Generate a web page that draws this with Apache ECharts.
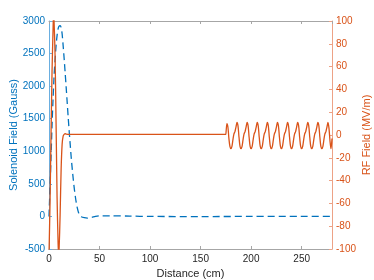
<!DOCTYPE html>
<html>
<head>
<meta charset="utf-8">
<script src="https://cdn.jsdelivr.net/npm/echarts@6/dist/echarts.min.js"></script>
<style>
html,body{margin:0;padding:0;background:#fff;}
#c{width:374px;height:280px;}
</style>
</head>
<body>
<div id="c"></div>
<script>
// Solenoid field (Gauss) vs distance (cm)
var solX = [0, 1, 2, 3, 4, 5, 6, 7, 8, 9, 10, 11, 12, 13, 14, 15, 16, 17, 18, 19, 20, 21, 22, 23, 24, 25, 26, 27, 28, 29, 30, 32, 35, 38, 42, 46, 50, 60, 80, 100, 150, 200, 250, 280];
var solY = [0, 450, 900, 1400, 1800, 2150, 2400, 2620, 2780, 2880, 2920, 2930, 2900, 2800, 2620, 2420, 2200, 1980, 1750, 1520, 1300, 1100, 900, 730, 570, 430, 310, 210, 130, 70, 30, -5, -20, -25, -15, 0, 8, 10, 5, 0, -2, 0, 0, 0];

// RF field (MV/m) vs distance (cm)
var rfX = [0, 1, 2, 3, 4, 4.5, 5, 6, 7, 8, 9, 9.5, 10, 11, 12, 13, 14, 15, 16, 17, 20, 40, 80, 120, 160, 175, 175.6,
  176, 177, 178, 179, 180, 181, 182, 183, 184, 185,
  186, 187, 188, 189, 190, 191, 192, 193, 194, 195,
  196, 197, 198, 199, 200, 201, 202, 203, 204, 205,
  206, 207, 208, 209, 210, 211, 212, 213, 214, 215,
  216, 217, 218, 219, 220, 221, 222, 223, 224, 225,
  226, 227, 228, 229, 230, 231, 232, 233, 234, 235,
  236, 237, 238, 239, 240, 241, 242, 243, 244, 245,
  246, 247, 248, 249, 250, 251, 252, 253, 254, 255,
  256, 257, 258, 259, 260, 261, 262, 263, 264, 265,
  266, 267, 268, 269, 270, 271, 272, 273, 274, 275,
  276, 277, 278, 279, 280];
var rfY = [-105, -60, 0, 55, 92, 105, 100, 70, 10, -55, -95, -105, -100, -70, -30, -8, -1, 0.5, 1.2, 0.8, 0.5, 0.5, 0.5, 0.5, 0.5, 0.5, 0.5,
  10, 7, -3, -10, -12, -10, -4, 1, 3, 7,
  11, 8, -2, -10, -12, -10, -4, 1, 3, 7,
  11, 8, -2, -10, -12, -10, -4, 1, 3, 7,
  11, 8, -2, -10, -12, -10, -4, 1, 3, 7,
  11, 8, -2, -10, -12, -10, -4, 1, 3, 7,
  11, 8, -2, -10, -12, -10, -4, 1, 3, 7,
  11, 8, -2, -10, -12, -10, -4, 1, 3, 7,
  11, 8, -2, -10, -12, -10, -4, 1, 3, 7,
  11, 8, -2, -10, -12, -10, -4, 1, 3, 7,
  11, 8, -2, -10, -12, -10, -4, 1, 3, 7,
  11, 6, -5, -12, -3];

var xTickInterval = 50;
var leftTickInterval = 500;
var rightTickInterval = 20;

function pairs(xs, ys) { var o = []; for (var i = 0; i < xs.length; i++) o.push([xs[i], ys[i]]); return o; }
function plain(v) { return String(v); }

var FONT = 'Liberation Sans, Arial, Helvetica, sans-serif';
var BLUE = '#0072BD', ORANGE = '#D95319', DARK = '#262626', GRAYLINE = '#a6a6a6';

var chart = echarts.init(document.getElementById('c'), null, {renderer: 'canvas'});
chart.setOption({
  animation: false,
  backgroundColor: '#ffffff',
  grid: {left: 49, right: 42, top: 21, bottom: 31, containLabel: false, outerBoundsMode: 'none'},
  xAxis: [{
    type: 'value', position: 'bottom', min: 0, max: 280, interval: xTickInterval,
    name: 'Distance (cm)', nameLocation: 'middle', nameGap: 19, nameMoveOverlap: false,
    nameTextStyle: {color: DARK, fontSize: 11, fontFamily: FONT},
    axisLine: {show: true, onZero: false, lineStyle: {color: GRAYLINE, width: 1}},
    axisTick: {show: true, inside: true, length: 3, lineStyle: {color: GRAYLINE}},
    axisLabel: {color: DARK, fontSize: 10, fontFamily: FONT, margin: 5, showMaxLabel: false, formatter: plain},
    splitLine: {show: false}
  }, {
    type: 'value', position: 'top', min: 0, max: 280, interval: xTickInterval,
    axisLine: {show: true, onZero: false, lineStyle: {color: GRAYLINE, width: 1}},
    axisTick: {show: true, inside: true, length: 3, lineStyle: {color: GRAYLINE}},
    axisLabel: {show: false},
    splitLine: {show: false}
  }],
  yAxis: [{
    type: 'value', position: 'left', min: -500, max: 3000, interval: leftTickInterval,
    name: 'Solenoid Field (Gauss)', nameLocation: 'middle', nameGap: 30, nameRotate: 90, nameMoveOverlap: false,
    nameTextStyle: {color: BLUE, fontSize: 11, fontFamily: FONT},
    axisLine: {show: true, onZero: false, lineStyle: {color: '#6aaee0', width: 1}},
    axisTick: {show: true, inside: true, length: 3, lineStyle: {color: '#6aaee0'}},
    axisLabel: {color: BLUE, fontSize: 10, fontFamily: FONT, margin: 4, formatter: plain},
    splitLine: {show: false}
  }, {
    type: 'value', position: 'right', min: -100, max: 100, interval: rightTickInterval,
    name: 'RF Field (MV/m)', nameLocation: 'middle', nameGap: 29, nameRotate: 90, nameMoveOverlap: false,
    nameTextStyle: {color: ORANGE, fontSize: 11, fontFamily: FONT},
    axisLine: {show: true, onZero: false, lineStyle: {color: '#eda286', width: 1}},
    axisTick: {show: true, inside: true, length: 3, lineStyle: {color: '#eda286'}},
    axisLabel: {color: ORANGE, fontSize: 10, fontFamily: FONT, margin: 4, formatter: plain},
    splitLine: {show: false}
  }],
  series: [{
    type: 'line', xAxisIndex: 0, yAxisIndex: 0, data: pairs(solX, solY),
    showSymbol: false, smooth: 0.3, clip: true,
    lineStyle: {color: BLUE, width: 1.3, type: [7, 4]}
  }, {
    type: 'line', xAxisIndex: 0, yAxisIndex: 1, data: pairs(rfX, rfY),
    showSymbol: false, smooth: 0.3, clip: true,
    lineStyle: {color: ORANGE, width: 1.3}
  }]
});
</script>
</body>
</html>
